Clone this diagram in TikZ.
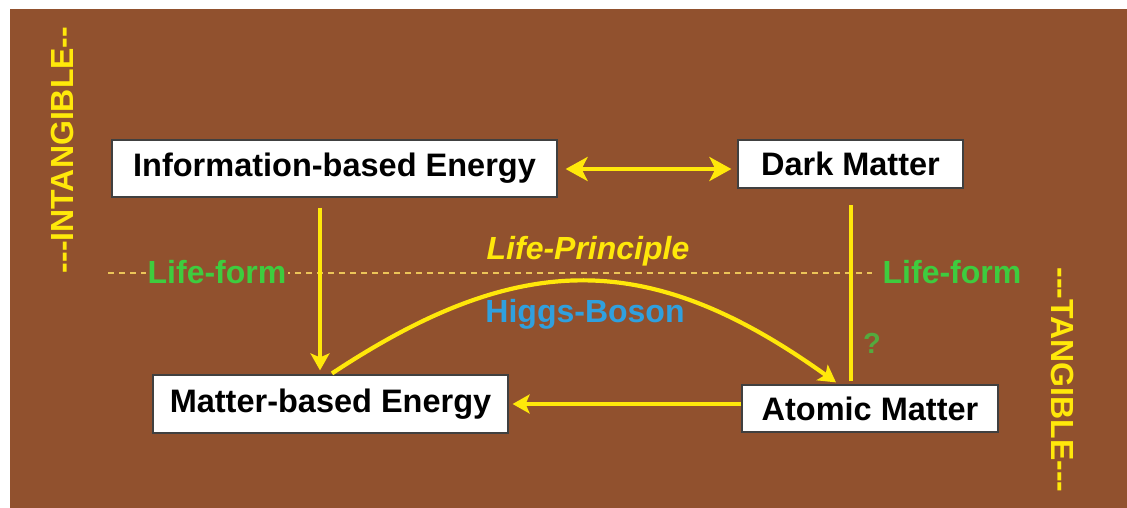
\documentclass[tikz,border=0pt]{standalone}
\usepackage{fontspec}
\setmainfont{Liberation Sans}
\usetikzlibrary{arrows.meta}
\definecolor{bgbrown}{RGB}{145,81,46}
\definecolor{lineyellow}{RGB}{255,232,10}
\definecolor{dashyellow}{RGB}{236,196,88}
\definecolor{formgreen}{RGB}{62,204,62}
\definecolor{questgreen}{RGB}{84,170,62}
\definecolor{higgsblue}{RGB}{48,160,222}

\begin{document}
\begin{tikzpicture}[x=1pt,y=-1pt]
  \tikzset{BoxStyle/.style   = {draw           = black!75,
                                fill           = white,
                                line width     = 1.2pt,
                                text           = black,
                                inner sep      = 0pt,
                                font           = \bfseries\fontsize{32.5}{36}\selectfont}}
  \tikzset{LabelStyle/.style = {inner sep      = 2pt,
                                font           = \bfseries\fontsize{32}{36}\selectfont}}
  \tikzset{EdgeStyle/.style  = {draw           = lineyellow,
                                line width     = 4.2pt,
                                -{Stealth[length=17pt,width=19pt,inset=4pt]}}}
%                                line cap = round}}
  \tikzset{DashStyle/.style  = {draw           = dashyellow,
                                line width     = 1.8pt,
                                dash pattern   = on 6pt off 5pt}}

\useasboundingbox (0,0) rectangle (1127,508);
\fill[white] (0,0) rectangle (1127,508);
\fill[bgbrown] (10,9) rectangle (1127,508);

\coordinate (L1) at (108,273);
\coordinate (V1) at (320,0);
\coordinate (V2) at (851,0);

\draw[DashStyle] (L1) -- (872,273);

\node[BoxStyle, minimum width=445pt, minimum height=57pt] (info)   at (334.5,168.5) {Information-based Energy};
\node[BoxStyle, minimum width=225pt, minimum height=48pt] (dark)   at (850.5,164)   {Dark Matter};
\node[BoxStyle, minimum width=355pt, minimum height=58pt] (matter) at (330.5,404)   {Matter-based Energy};
\node[BoxStyle, minimum width=256pt, minimum height=47pt] (atomic) at (870,408.5)   {Atomic Matter};

\node[LabelStyle, fill=bgbrown, text=formgreen] (lfleft)  at (217,272) {Life-form};
\node[LabelStyle, text=formgreen]               (lfright) at (952,272) {Life-form};
\node[LabelStyle, text=lineyellow, font=\bfseries\itshape\fontsize{32}{36}\selectfont] (principle) at (588,251) {Life-Principle};
\node[LabelStyle, text=higgsblue]               (higgs)   at (585,314) {Higgs-Boson};
\node[LabelStyle, text=questgreen, font=\bfseries\fontsize{29}{32}\selectfont] (quest) at (872,343) {?};

\node[LabelStyle, text=lineyellow, rotate=90]  (intang) at (62,150)   {-{}-{}-INTANGIBLE-{}-};
\node[LabelStyle, text=lineyellow, rotate=-90] (tang)   at (1063,380) {-{}-{}-TANGIBLE-{}-{}-};

\draw[EdgeStyle, {Stealth[length=22pt,width=24pt,inset=6pt]}-{Stealth[length=22pt,width=24pt,inset=6pt]}]
      ([xshift=8pt]info.east |- 0,169) -- ([xshift=-6pt]dark.west |- 0,169);
\draw[EdgeStyle] ([yshift=-10pt]info.south -| V1) -- ([yshift=4pt]matter.north -| V1);
\draw[EdgeStyle] (atomic.west |- matter.east) -- ([xshift=4pt]matter.east);
\draw[EdgeStyle, -] ([yshift=3pt]atomic.north -| V2) -- ([yshift=-16pt]dark.south -| V2);
\draw[EdgeStyle] ([xshift=1.5pt,yshift=1pt]matter.north) .. controls (520,249) and (650,249) .. ([xshift=-34pt,yshift=2pt]atomic.north);
\end{tikzpicture}
\end{document}
